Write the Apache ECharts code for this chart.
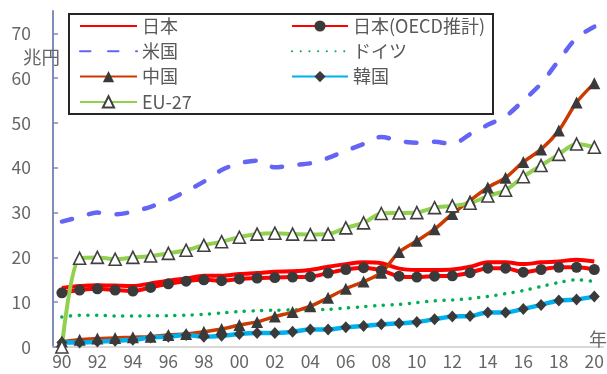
<!DOCTYPE html>
<html>
<head>
<meta charset="utf-8">
<script src="https://cdn.jsdelivr.net/npm/echarts@6/dist/echarts.min.js"></script>
<style>
  html, body { margin: 0; padding: 0; background: #ffffff; }
  #chart { width: 607px; height: 374px; }
</style>
</head>
<body>
<div id="chart"></div>
<script>
// 研究開発費の推移（兆円）
const years = [
  1990, 1991, 1992, 1993, 1994, 1995, 1996, 1997, 1998, 1999,
  2000, 2001, 2002, 2003, 2004, 2005, 2006, 2007, 2008, 2009,
  2010, 2011, 2012, 2013, 2014, 2015, 2016, 2017, 2018, 2019, 2020
];
const yTicks = [0, 10, 20, 30, 40, 50, 60, 70];

const japan = [
  13.2, 13.6, 13.8, 13.7, 13.6, 14.2, 14.8, 15.3, 15.9, 15.9,
  16.3, 16.5, 16.8, 16.9, 17.2, 17.9, 18.5, 18.9, 18.7, 17.5,
  17.2, 17.2, 17.3, 17.9, 18.9, 18.9, 18.5, 18.9, 19.1, 19.5, 19.1
];
const japanOecd = [
  12.1, 12.7, 13.0, 12.7, 12.5, 13.3, 14.1, 14.7, 15.0, 14.8,
  15.2, 15.4, 15.5, 15.6, 15.7, 16.5, 17.3, 17.7, 17.1, 15.8,
  15.6, 15.8, 15.9, 16.6, 17.6, 17.6, 16.7, 17.3, 17.8, 17.8, 17.3
];
const usa = [
  28.0, 29.0, 30.0, 29.6, 30.2, 31.3, 32.8, 34.8, 36.9, 39.5,
  41.0, 41.6, 40.1, 40.6, 41.0, 42.2, 43.8, 45.3, 46.9, 46.0,
  45.6, 45.8, 45.3, 47.5, 49.6, 51.5, 55.0, 58.8, 64.0, 69.0, 71.5
];
const germany = [
  6.7, 7.1, 7.1, 6.9, 6.9, 7.0, 7.0, 7.1, 7.3, 7.6,
  7.9, 8.1, 8.2, 8.3, 8.3, 8.4, 8.7, 9.0, 9.3, 9.5,
  9.9, 10.3, 10.5, 10.8, 11.3, 11.9, 12.6, 13.5, 14.4, 15.0, 14.6
];
const china = [
  1.2, 1.6, 1.9, 2.0, 2.2, 2.3, 2.7, 2.9, 3.4, 4.0,
  4.9, 5.6, 6.8, 7.8, 9.1, 11.0, 13.0, 14.6, 16.6, 21.2,
  23.7, 26.3, 29.7, 32.7, 35.6, 37.8, 41.3, 44.1, 48.3, 54.6, 58.9
];
const korea = [
  1.0, 1.0, 1.2, 1.4, 1.6, 2.1, 2.3, 2.7, 2.3, 2.5,
  2.9, 3.1, 3.1, 3.4, 3.9, 3.9, 4.4, 4.7, 5.1, 5.3,
  5.6, 6.2, 6.8, 6.9, 7.7, 7.7, 8.5, 9.4, 10.4, 10.6, 11.3
];
const eu27 = [
  0.0, 19.8, 20.0, 19.6, 20.0, 20.3, 20.9, 21.6, 22.7, 23.5,
  24.5, 25.2, 25.4, 25.2, 25.1, 25.2, 26.6, 27.7, 29.8, 29.9,
  30.0, 31.1, 31.5, 32.1, 33.7, 35.0, 38.0, 40.5, 43.0, 45.3, 44.6
];

const markerFill = '#3a3a3a';
const textColor = '#666666';
const jpFont = '"Noto Sans CJK JP", "Noto Sans", sans-serif';
const smoothness = 0.3;

// line-only legend entries (no marker on the icon)
const plain = name => ({ name, itemStyle: { opacity: 0 } });

const legendText = { fontSize: 18, lineHeight: 18, color: '#595959', fontFamily: jpFont };

const chart = echarts.init(document.getElementById('chart'), null, { renderer: 'canvas' });

chart.setOption({
  animation: false,
  backgroundColor: '#ffffff',
  textStyle: { fontFamily: jpFont },
  grid: { left: 53, right: 3, top: 11, bottom: 27, containLabel: false },
  xAxis: {
    type: 'category',
    data: years,
    boundaryGap: true,
    axisLine: { show: true, lineStyle: { color: '#d9d9d9', width: 2 } },
    axisTick: { show: false },
    axisLabel: {
      interval: 1,
      margin: 6,
      fontSize: 17.5,
      color: textColor,
      fontFamily: jpFont,
      formatter: v => String(v).slice(2)
    },
    splitLine: { show: false }
  },
  yAxis: {
    type: 'value',
    min: 0,
    max: 75,
    interval: 10,
    axisLine: { show: true, lineStyle: { color: '#7f8bb8', width: 2 } },
    axisTick: {
      show: true, inside: true, length: 5,
      customValues: yTicks,
      lineStyle: { color: '#7f8bb8', width: 1.5 }
    },
    axisLabel: {
      margin: 22,
      fontSize: 17.5,
      color: textColor,
      fontFamily: jpFont,
      customValues: yTicks
    },
    splitLine: { show: false }
  },
  legend: [
    {
      data: [plain('日本'), plain('米国'), '中国', 'EU-27'],
      orient: 'vertical',
      left: 79, top: 17,
      padding: 0,
      itemWidth: 57, itemHeight: 14, itemGap: 7.3,
      textStyle: legendText,
      z: 10
    },
    {
      data: ['日本(OECD推計)', plain('ドイツ'), '韓国'],
      orient: 'vertical',
      left: 291, top: 17,
      padding: 0,
      itemWidth: 56, itemHeight: 14, itemGap: 7.3,
      textStyle: legendText,
      z: 10
    }
  ],
  graphic: [
    {
      type: 'rect',
      z: 5,
      shape: { x: 69, y: 14, width: 424, height: 100 },
      style: { fill: '#ffffff', stroke: '#262626', lineWidth: 2 }
    },
    {
      type: 'text',
      z: 5,
      left: 23, top: 48,
      style: { text: '兆円', fontSize: 18.5, fill: textColor, fontFamily: jpFont }
    },
    {
      type: 'text',
      z: 5,
      left: 589, top: 330,
      style: { text: '年', fontSize: 18, fill: textColor, fontFamily: jpFont }
    }
  ],
  series: [
    {
      name: '日本',
      type: 'line',
      data: japan,
      smooth: smoothness,
      symbol: 'none',
      lineStyle: { color: '#ff0000', width: 4 },
      itemStyle: { color: '#ff0000' },
      z: 2
    },
    {
      name: '日本(OECD推計)',
      type: 'line',
      data: japanOecd,
      smooth: smoothness,
      symbol: 'circle',
      symbolSize: 11,
      showAllSymbol: true,
      lineStyle: { color: '#ff0000', width: 4 },
      itemStyle: { color: markerFill, borderColor: markerFill, borderWidth: 0 },
      z: 3
    },
    {
      name: '米国',
      type: 'line',
      data: usa,
      smooth: smoothness,
      symbol: 'none',
      lineStyle: { color: '#6464f5', width: 4.5, type: [10.5, 17.5], cap: 'round' },
      itemStyle: { color: '#6464f5' },
      z: 2
    },
    {
      name: 'ドイツ',
      type: 'line',
      data: germany,
      smooth: smoothness,
      symbol: 'none',
      lineStyle: { color: '#00b050', width: 3.5, type: [0.1, 8.6], cap: 'round' },
      itemStyle: { color: '#00b050' },
      z: 2
    },
    {
      name: '中国',
      type: 'line',
      data: china,
      smooth: smoothness,
      symbol: 'triangle',
      symbolSize: [12, 12],
      showAllSymbol: true,
      lineStyle: { color: '#cc3a00', width: 3.5 },
      itemStyle: { color: markerFill, borderColor: markerFill, borderWidth: 0 },
      z: 3
    },
    {
      name: '韓国',
      type: 'line',
      data: korea,
      smooth: smoothness,
      symbol: 'diamond',
      symbolSize: [11, 12],
      showAllSymbol: true,
      lineStyle: { color: '#00b0f0', width: 4.5 },
      itemStyle: { color: markerFill, borderColor: markerFill, borderWidth: 0 },
      z: 3
    },
    {
      name: 'EU-27',
      type: 'line',
      data: eu27,
      smooth: smoothness,
      symbol: 'triangle',
      symbolSize: [12, 12],
      showAllSymbol: true,
      lineStyle: { color: '#92d050', width: 4 },
      itemStyle: { color: '#ffffff', borderColor: '#404040', borderWidth: 1.6 },
      z: 3
    }
  ]
});
</script>
</body>
</html>
